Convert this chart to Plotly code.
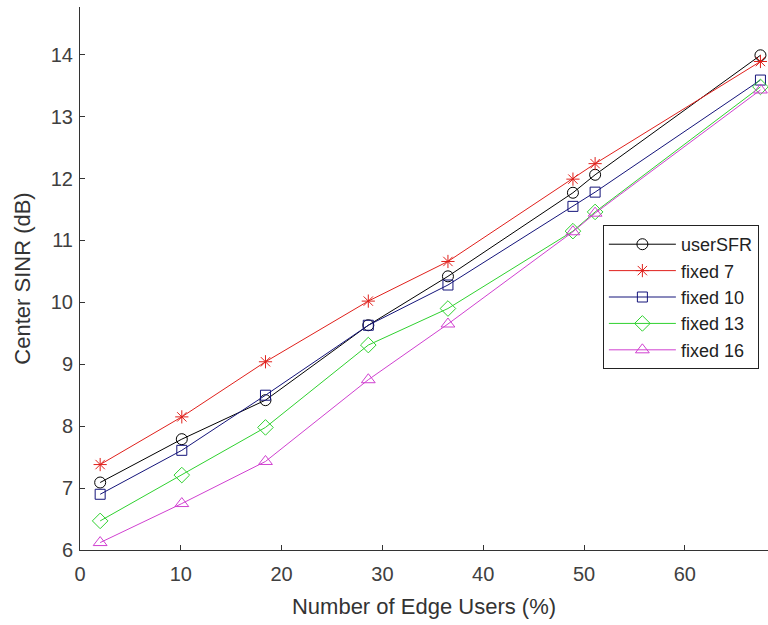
import plotly.graph_objects as go

edge_users = [2.0, 10.1, 18.4, 28.6, 36.5, 48.9, 51.1, 67.5]

user_sfr = [7.09, 7.79, 8.42, 9.63, 10.42, 11.77, 12.06, 13.99]
fixed_7 = [7.38, 8.15, 9.04, 10.02, 10.66, 11.99, 12.24, 13.89]
fixed_10 = [6.90, 7.61, 8.50, 9.63, 10.28, 11.55, 11.78, 13.59]
fixed_13 = [6.47, 7.21, 7.98, 9.31, 9.90, 11.15, 11.46, 13.48]
fixed_16 = [6.12, 6.75, 7.43, 8.75, 9.65, 11.14, 11.44, 13.43]

series_names = ["userSFR", "fixed 7", "fixed 10", "fixed 13", "fixed 16"]
series_values = [user_sfr, fixed_7, fixed_10, fixed_13, fixed_16]
series_colors = ["#000000", "#e0201b", "#14147a", "#2fd12f", "#d040d0"]
series_symbols = ["circle-open", "asterisk-open", "square-open", "diamond-open", "triangle-up-open"]
series_sizes = [11, 11, 10, 12, 12]

x_ticks = [0, 10, 20, 30, 40, 50, 60]
y_ticks = [6, 7, 8, 9, 10, 11, 12, 13, 14]

fig = go.Figure()
for name, vals, col, sym, sz in zip(series_names, series_values, series_colors, series_symbols, series_sizes):
    fig.add_trace(go.Scatter(
        x=edge_users, y=vals, name=name, mode="lines+markers",
        line=dict(color=col, width=1),
        marker=dict(symbol=sym, size=sz, color=col, line=dict(color=col, width=1)),
    ))

font_family = "Arial, Liberation Sans, sans-serif"
axis_col = "#333333"

fig.update_layout(
    width=768, height=625,
    margin=dict(l=80, r=0, t=7, b=75, autoexpand=False),
    paper_bgcolor="white", plot_bgcolor="white",
    font=dict(family=font_family, size=20, color="#404040"),
    showlegend=True,
    legend=dict(
        x=0.760, y=0.5985, xanchor="left", yanchor="top",
        bgcolor="white", bordercolor="#222222", borderwidth=1,
        font=dict(family=font_family, size=18, color="#222222"),
        itemwidth=67, tracegroupgap=0,
    ),
    xaxis=dict(
        range=[0, 68.25], tickvals=x_ticks, ticktext=[str(v) for v in x_ticks],
        showgrid=False, zeroline=False, showline=True, linecolor=axis_col, linewidth=1,
        ticks="inside", ticklen=5, tickcolor=axis_col, automargin=False,
        ticklabelstandoff=6,
        tickfont=dict(size=20, color="#404040"),
        title=dict(text="Number of Edge Users (%)", font=dict(size=22, color="#333333"), standoff=14),
    ),
    yaxis=dict(
        range=[6, 14.77], tickvals=y_ticks, ticktext=[str(v) for v in y_ticks],
        showgrid=False, zeroline=False, showline=True, linecolor=axis_col, linewidth=1,
        ticks="inside", ticklen=5, tickcolor=axis_col, automargin=False,
        ticklabelstandoff=2,
        tickfont=dict(size=20, color="#404040"),
        title=dict(text="Center SINR (dB)", font=dict(size=22, color="#333333"), standoff=14),
    ),
)

fig.write_html("out.html", config={"displayModeBar": False},
               post_script="document.body.style.margin='0px';")
